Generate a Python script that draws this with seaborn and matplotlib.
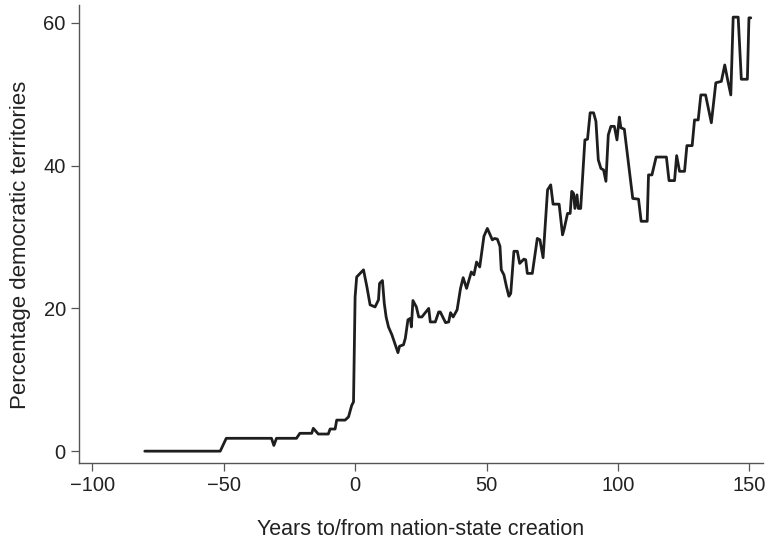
import matplotlib
matplotlib.use("Agg")
import matplotlib.pyplot as plt
import seaborn as sns
import pandas as pd

years = [-80, -51.3, -49, -31.8, -30.9, -29.9, -22.3, -21, -16.5, -15.9, -14, -10.2, -9.5, -7.6, -7,
         -3.8, -2.5, -1.3, -0.6, 0, 0.6, 3.2, 4.5, 5.7, 7.6, 8.9, 9.3, 10.4, 11.1, 11.8, 12.7, 14.0,
         15.3, 16.3, 16.9, 18.4, 19.1, 20.1, 21.0, 21.4, 22.0, 23.3, 24.2, 25.4, 28.0, 28.6, 30.5,
         31.8, 32.4, 34.4, 35.6, 36.3, 37.3, 38.8, 40.1, 41.1, 42.4, 44.2, 45.2, 46.2, 47.4, 49.0,
         50.3, 52.2, 53.1, 54.1, 55.1, 55.6, 56.6, 57.6, 58.5, 59.2, 60.4, 61.7, 62.6, 64.2, 64.9,
         65.5, 67.4, 69.3, 70.3, 71.5, 73.2, 74.4, 75.3, 77.6, 78.9, 79.5, 80.8, 81.8, 82.4, 83.1,
         83.6, 84.4, 84.9, 85.8, 87.4, 88.4, 89.4, 90.7, 91.6, 92.5, 93.5, 94.5, 95.4, 96.3, 97.3,
         98.6, 99.6, 100.5, 101.1, 102.4, 105.6, 107.8, 108.8, 111.1, 111.6, 112.9, 114.5, 118.4,
         119.4, 121.5, 122.3, 123.4, 125.3, 126.2, 128.2, 129.1, 130.5, 131.5, 133.3, 135.5, 137.2,
         139.3, 140.6, 141.6, 142.9, 143.8, 145.7, 146.9, 149.2, 149.8, 150.5]
pct = [0, 0, 1.8, 1.8, 0.8, 1.8, 1.8, 2.5, 2.5, 3.2, 2.4, 2.4, 3.1, 3.1, 4.35,
       4.35, 4.8, 6.4, 6.9, 21.6, 24.4, 25.4, 23.0, 20.5, 20.2, 21.2, 23.5, 23.9, 20.7, 18.8, 17.4, 16.3,
       14.9, 13.8, 14.7, 14.9, 15.8, 18.4, 18.6, 17.4, 21.1, 20.2, 18.8, 18.8, 20.0, 18.1, 18.1,
       19.5, 19.5, 18.0, 18.1, 19.4, 18.8, 19.8, 22.8, 24.3, 22.8, 25.1, 24.7, 26.5, 25.8, 30.1,
       31.2, 29.6, 29.8, 29.7, 28.7, 25.4, 24.7, 23.0, 21.7, 22.1, 28.0, 28.0, 26.3, 26.9, 26.8,
       24.9, 24.9, 29.8, 29.6, 27.1, 36.6, 37.3, 34.6, 34.6, 30.3, 31.1, 33.3, 33.3, 36.4, 36.1,
       34.0, 35.9, 34.0, 34.0, 43.6, 43.7, 47.4, 47.4, 46.2, 40.8, 39.6, 39.4, 37.8, 44.3, 45.5,
       45.5, 43.6, 46.8, 45.3, 45.1, 35.4, 35.3, 32.2, 32.2, 38.7, 38.7, 41.2, 41.2,
       37.9, 37.9, 41.4, 39.2, 39.2, 42.8, 42.8, 46.4, 46.4, 49.9, 49.9, 46.0, 51.6,
       51.8, 54.1, 52.2, 49.9, 60.8, 60.8, 52.1, 52.1, 60.7, 60.7]

x_ticks = [-100, -50, 0, 50, 100, 150]
y_ticks = [0, 20, 40, 60]

sns.set_style("ticks")
plt.rcParams['font.family'] = ['Liberation Sans', 'DejaVu Sans']

df = pd.DataFrame({"year": years, "pct": pct})

fig = plt.figure(figsize=(7.68, 5.43), dpi=100)
ax = fig.add_axes([0.1029, 0.1468, 0.8901, 0.844])
sns.lineplot(data=df, x="year", y="pct", ax=ax, color="#1e1e1e", linewidth=2.0,
             sort=False, estimator=None)

ax.set_xlim(-105, 155)
ax.set_ylim(-1.7, 62.5)
ax.set_xticks(x_ticks)
ax.set_xticklabels(["\u2212100", "\u221250", "0", "50", "100", "150"])
ax.set_yticks(y_ticks)
ax.tick_params(axis="both", labelsize=14.5, colors="#222222", length=5.5, width=0.9,
               direction="out", color="#555555", pad=4)
for s in ["left", "bottom"]:
    ax.spines[s].set_color("#555555")
    ax.spines[s].set_linewidth(1.0)
sns.despine(ax=ax)

ax.set_xlabel("Years to/from nation-state creation", fontsize=15.5, color="#222222", labelpad=17)
ax.set_ylabel("Percentage democratic territories", fontsize=16, color="#222222", labelpad=9)
ax.yaxis.label.set_y(0.477)

fig.savefig("out.png", dpi=100)
